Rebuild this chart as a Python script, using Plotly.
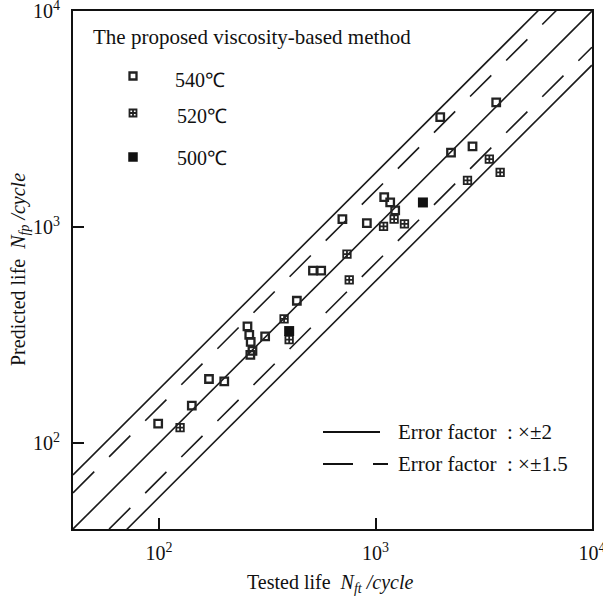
import math
import plotly.graph_objects as go

# ---------------- data ----------------
t540_tested = [99, 141.6, 170, 200, 256, 261, 265, 270, 264, 309, 433, 514, 561,
               703, 912, 1097, 1169, 1233, 1991, 2233, 2807, 3612]
t540_pred = [123, 149, 198, 193, 347, 317, 294, 267, 256, 312, 456, 628, 628,
             1089, 1044, 1377, 1300, 1194, 3228, 2213, 2362, 3776]

t520_tested = [125, 378, 399, 738, 756, 1089, 1219, 1361, 2661, 3357, 3767]
t520_pred = [118, 376, 301, 750, 570, 1007, 1089, 1035, 1644, 2065, 1791]

t500_tested = [399, 1656]
t500_pred = [330, 1300]

axis_min, axis_max = 40, 10000
line_x = [axis_min, axis_max]
factor_solid = 1.78
factor_dashed = 1.47

tick_vals = [100, 1000, 10000]
tick_text = ["10<sup>2</sup>", "10<sup>3</sup>", "10<sup>4</sup>"]

series_labels = ["540\u2103", "520\u2103", "500\u2103"]
method_title = "The proposed viscosity-based method"
error_labels = ["Error factor\u00a0\u00a0: \u00d7\u00b12", "Error factor\u00a0\u00a0: \u00d7\u00b11.5"]

FONT = "Liberation Serif, Times New Roman, serif"

fig = go.Figure()

# reference lines
line_specs = [
    (1.0, "solid"),
    (factor_solid, "solid"),
    (1 / factor_solid, "solid"),
    (factor_dashed, "30px,21px"),
    (1 / factor_dashed, "30px,21px"),
]
for f, dash in line_specs:
    fig.add_trace(go.Scatter(
        x=line_x, y=[v * f for v in line_x], mode="lines",
        line=dict(color="#1a1a1a", width=1.6, dash=dash),
        showlegend=False, hoverinfo="skip"))

mk_line = dict(color="#222", width=2.3)
fig.add_trace(go.Scatter(x=t540_tested, y=t540_pred, mode="markers",
                         marker=dict(symbol="square-open", size=7.5, color="#222", line=mk_line),
                         showlegend=False))
fig.add_trace(go.Scatter(x=t520_tested, y=t520_pred, mode="markers",
                         marker=dict(symbol="square-cross-open", size=7.5, color="#222", line=dict(color="#222", width=1.8)),
                         showlegend=False))
fig.add_trace(go.Scatter(x=t500_tested, y=t500_pred, mode="markers",
                         marker=dict(symbol="square", size=10, color="#111", line=dict(width=0)),
                         showlegend=False))

# ---- legend (manual) ----
L, R, T, B = 73, 592, 11, 529
W, H = R - L, B - T


def px(xp):
    return (xp - L) / W


def py(yp):
    return (B - yp) / H


leg_symbols = [
    dict(symbol="square-open", size=7, color="#222", line=dict(color="#222", width=2.3)),
    dict(symbol="square-cross-open", size=7, color="#222", line=dict(color="#222", width=1.8)),
    dict(symbol="square", size=9.5, color="#111", line=dict(width=0)),
]
leg_marker_y = [76, 113, 157]
leg_text_y = [80, 116, 158]
for sym, yy in zip(leg_symbols, leg_marker_y):
    fig.add_trace(go.Scatter(x=[px(133)], y=[py(yy)], mode="markers", marker=sym,
                             xaxis="x2", yaxis="y2", showlegend=False, hoverinfo="skip"))

annots = []
annots.append(dict(text=method_title, x=px(91), y=py(37), xref="paper", yref="paper",
                   xanchor="left", yanchor="middle", showarrow=False,
                   font=dict(family=FONT, size=21, color="#111")))
for lab, yy, xx in zip(series_labels, leg_text_y, [173, 175, 175]):
    annots.append(dict(text=lab, x=px(xx), y=py(yy), xref="paper", yref="paper",
                       xanchor="left", yanchor="middle", showarrow=False,
                       font=dict(family=FONT, size=20, color="#111")))
for lab, yy in zip(error_labels, [432, 464]):
    annots.append(dict(text=lab, x=px(396), y=py(yy), xref="paper", yref="paper",
                       xanchor="left", yanchor="middle", showarrow=False,
                       font=dict(family=FONT, size=21, color="#111")))

# axis titles
annots.append(dict(text="Tested life  <i>N</i><sub><i>ft</i></sub><i> /cycle</i>",
                   x=px(330), y=py(583), xref="paper", yref="paper",
                   xanchor="center", yanchor="middle", showarrow=False,
                   font=dict(family=FONT, size=20, color="#111")))
annots.append(dict(text="Predicted life  <i>N</i><sub><i>fp</i></sub><i> /cycle</i>",
                   x=px(19), y=py(270), xref="paper", yref="paper", textangle=-90,
                   xanchor="center", yanchor="middle", showarrow=False,
                   font=dict(family=FONT, size=20, color="#111")))

shapes = [
    dict(type="line", xref="paper", yref="paper", x0=px(323), x1=px(380), y0=py(432), y1=py(432),
         line=dict(color="#111", width=1.8)),
    dict(type="line", xref="paper", yref="paper", x0=px(323), x1=px(388), y0=py(464), y1=py(464),
         line=dict(color="#111", width=1.8, dash="30px,20px")),
]

axis_common = dict(
    type="log", range=[math.log10(axis_min), math.log10(axis_max) + 0.0004],
    showgrid=False, zeroline=False, showline=True, mirror=True, automargin=False,
    linecolor="#111", linewidth=2, ticks="inside", ticklen=11, tickwidth=1.5,
    tickcolor="#111", tickvals=tick_vals, ticktext=tick_text, ticklabeloverflow="allow",
    tickfont=dict(family=FONT, size=20, color="#111"),
)

fig.update_layout(
    width=603, height=600,
    margin=dict(l=L, r=603 - R, t=T, b=600 - B),
    paper_bgcolor="white", plot_bgcolor="white",
    xaxis=dict(**axis_common, ticklabelstandoff=5),
    yaxis=dict(**axis_common, ticklabelstandoff=7),
    xaxis2=dict(overlaying="x", range=[0, 1], visible=False),
    yaxis2=dict(overlaying="y", range=[0, 1], visible=False),
    annotations=annots, shapes=shapes, showlegend=False,
)

fig.write_html("out.html", config={"displayModeBar": False},
               post_script="document.body.style.margin='0';document.body.style.padding='0';")
